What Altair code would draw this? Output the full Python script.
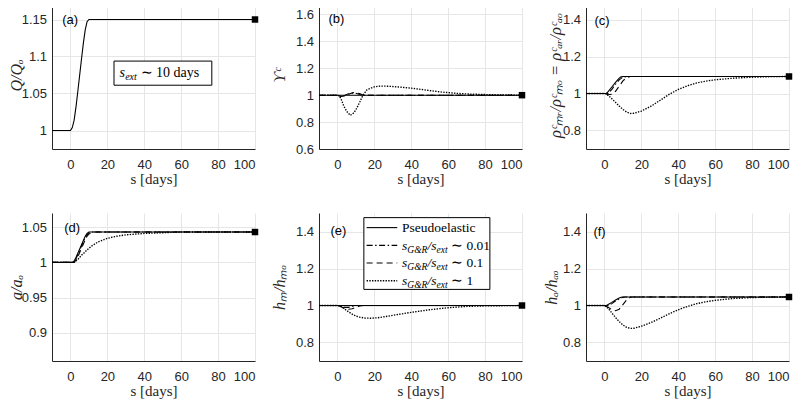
import altair as alt
import pandas as pd

# ---------------- data ----------------
X_TICKS = [0, 20, 40, 60, 80, 100]
X_DOMAIN = [-10, 100]

# (a) Q/Qo
A_S = [-10, 0, 1, 2, 3, 4, 5, 6, 7, 8, 9, 10, 100]
A_V = [1.0, 1.0, 1.004, 1.014, 1.032, 1.053, 1.075, 1.097, 1.118, 1.136, 1.147, 1.15, 1.15]

# (b) Upsilon^c
B_SOLID_S = [-10, 100]
B_SOLID_V = [1.0, 1.0]
B_DASHDOT_S = [-10, 0, 1.5, 4, 6, 8, 10, 12, 14, 100]
B_DASHDOT_V = [1, 1, 0.99, 1.0, 1.01, 1.016, 1.014, 1.005, 1.0, 1.0]
B_DASHED_S = [-10, 0, 2, 4, 7, 9, 12, 14, 100]
B_DASHED_V = [1, 1, 0.99, 0.994, 1.012, 1.02, 1.012, 1.0, 1.0]
B_DOTTED_S = [-10, 0, 1, 2, 3.4, 5, 7, 9, 10.7, 12.3, 13.8, 16, 20, 23.5, 28, 34, 40, 48, 56, 64, 72, 85, 100]
B_DOTTED_V = [1, 1, 0.995, 0.97, 0.92, 0.88, 0.85, 0.87, 0.91, 0.955, 1.0, 1.04, 1.062, 1.068, 1.066,
              1.06, 1.052, 1.038, 1.024, 1.014, 1.008, 1.003, 1.0]

# (c) rho ratio
C_SOLID_S = [-10, 0, 1, 2, 4, 6, 8, 9, 10, 100]
C_SOLID_V = [1, 1, 1.0, 1.01, 1.035, 1.06, 1.083, 1.09, 1.092, 1.092]
C_DASHDOT_S = [-10, 0, 2, 4, 6, 8, 10, 12, 100]
C_DASHDOT_V = [1, 1, 1.0, 1.022, 1.05, 1.074, 1.088, 1.092, 1.092]
C_DASHED_S = [-10, 0, 2, 4, 6, 8, 10, 12, 14, 100]
C_DASHED_V = [1, 1, 0.993, 0.996, 1.012, 1.04, 1.068, 1.086, 1.092, 1.092]
C_DOTTED_S = [-10, 0, 1, 2, 4, 6, 8, 10, 12, 14, 16, 20, 25, 30, 35, 40, 45, 50, 55, 60, 70, 80, 90, 100]
C_DOTTED_V = [1, 1, 0.998, 0.99, 0.972, 0.952, 0.932, 0.914, 0.9, 0.892, 0.893, 0.905, 0.93, 0.962,
              0.995, 1.022, 1.042, 1.057, 1.067, 1.074, 1.083, 1.088, 1.091, 1.092]

# (d) a/ao
D_SOLID_S = [-10, 1, 2, 3, 4, 5, 6, 7, 8, 9, 10, 100]
D_SOLID_V = [1, 1, 1.002, 1.007, 1.013, 1.019, 1.025, 1.031, 1.037, 1.041, 1.043, 1.043]
D_DASHDOT_S = [-10, 1, 2, 3, 4, 5, 6, 7, 8, 9, 10, 11, 100]
D_DASHDOT_V = [1, 1, 1.0, 1.005, 1.011, 1.017, 1.023, 1.029, 1.035, 1.039, 1.042, 1.043, 1.043]
D_DASHED_S = [-10, 1, 2, 3, 4, 5, 6, 7, 8, 9, 10, 12, 100]
D_DASHED_V = [1, 1, 1.0, 1.003, 1.008, 1.014, 1.02, 1.026, 1.032, 1.037, 1.04, 1.043, 1.043]
D_DOTTED_S = [-10, 0, 2, 4, 6, 8, 10, 12, 15, 20, 25, 30, 40, 50, 60, 100]
D_DOTTED_V = [1, 1, 1.0, 1.004, 1.01, 1.015, 1.02, 1.024, 1.029, 1.034, 1.037, 1.039, 1.041, 1.042, 1.043, 1.043]

# (e) hM/hMo
E_SOLID_S = [-10, 100]
E_SOLID_V = [1.0, 1.0]
E_DASHDOT_S = [-10, 0, 2, 4, 6, 8, 10, 100]
E_DASHDOT_V = [1, 1, 0.995, 0.99, 0.99, 0.995, 1.0, 1.0]
E_DASHED_S = [-10, 0, 2, 4, 6, 8, 10, 12, 14, 100]
E_DASHED_V = [1, 1, 0.993, 0.985, 0.98, 0.982, 0.99, 0.997, 1.0, 1.0]
E_DOTTED_S = [-10, 0, 2, 4, 6, 8, 10, 12, 15, 18, 22, 26, 30, 35, 40, 45, 50, 60, 70, 80, 100]
E_DOTTED_V = [1, 1, 0.994, 0.98, 0.966, 0.953, 0.943, 0.937, 0.932, 0.931, 0.934, 0.94, 0.947,
              0.955, 0.963, 0.97, 0.977, 0.988, 0.995, 0.998, 1.0]

# (f) hA/hAo
F_SOLID_S = [-10, 0, 1, 2, 4, 6, 8, 9, 10, 100]
F_SOLID_V = [1, 1, 1.0, 1.005, 1.017, 1.03, 1.041, 1.045, 1.046, 1.046]
F_DASHDOT_S = [-10, 0, 2, 4, 6, 8, 10, 11, 100]
F_DASHDOT_V = [1, 1, 1.0, 1.01, 1.024, 1.036, 1.044, 1.046, 1.046]
F_DASHED_S = [-10, 0, 2, 4, 6, 8, 10, 12, 14, 15, 100]
F_DASHED_V = [1, 1, 0.99, 0.978, 0.972, 0.98, 1.005, 1.03, 1.044, 1.046, 1.046]
F_DOTTED_S = [-10, 0, 2, 4, 6, 8, 10, 12, 14, 16, 20, 25, 30, 35, 40, 45, 50, 55, 60, 70, 80, 90, 100]
F_DOTTED_V = [1, 1, 0.985, 0.96, 0.935, 0.913, 0.895, 0.882, 0.876, 0.877, 0.888, 0.907, 0.93,
              0.955, 0.977, 0.995, 1.01, 1.02, 1.028, 1.038, 1.043, 1.045, 1.046]

END_S = 100
END_V = {"a": 1.15, "b": 1.0, "c": 1.092, "d": 1.043, "e": 1.0, "f": 1.046}

Y_DOMAINS = {"a": [0.975, 1.175], "b": [0.6, 1.7], "c": [0.7, 1.5],
             "d": [0.86, 1.07], "e": [0.7, 1.5], "f": [0.7, 1.5]}
Y_TICKS = {"a": [1, 1.05, 1.1, 1.15], "b": [0.6, 0.8, 1, 1.2, 1.4, 1.6], "c": [0.8, 1, 1.2, 1.4],
           "d": [0.9, 0.95, 1, 1.05], "e": [0.8, 1, 1.2, 1.4], "f": [0.8, 1, 1.2, 1.4]}
Y_TITLES = {"a": "Q/Qₒ", "b": "ϒᶜ", "c": "ρᶜₘᵣ/ρᶜₘₒ = ρᶜₐᵣ/ρᶜₐₒ",
            "d": "a/aₒ", "e": "hₘ/hₘₒ", "f": "hₐ/hₐₒ"}
PANEL_LABELS = {"a": "(a)", "b": "(b)", "c": "(c)", "d": "(d)", "e": "(e)", "f": "(f)"}
LABEL_S = {"a": -4.5, "b": -4.9, "c": -5.4, "d": -3.4, "e": -3.8, "f": -6.0}
LABEL_V = {"a": 1.149, "b": 1.563, "c": 1.392, "d": 1.049, "e": 1.405, "f": 1.4}

# annotation box in (a)
BOX_A = {"s1": 23.6, "s2": 76.6, "v1": 1.0612, "v2": 1.0938}
BOX_A_TEXT = {"s": 26.6, "v": 1.078, "tail": "∼ 10 days"}

# legend in (e)
LEG_BOX = {"s1": 14.3, "s2": 82.6, "v1": 1.087, "v2": 1.475}
LEG_STYLES = ["solid", "dashdot", "dashed", "dotted"]
LEG_V = [1.421, 1.325, 1.230, 1.134]
LEG_LINE_S = [15.8, 32.4]
LEG_TEXT_S = 35.0
LEG_RATIOS = ["0.01", "0.1", "1"]

DASH = {"solid": [1, 0], "dashdot": [6, 2.5, 1.5, 2.5], "dashed": [6, 4], "dotted": [1.4, 1.3]}
WIDTH = {"solid": 1.1, "dashdot": 1.1, "dashed": 1.1, "dotted": 1.35}

SERIES = {
    "a": [("solid", A_S, A_V)],
    "b": [("dotted", B_DOTTED_S, B_DOTTED_V), ("dashed", B_DASHED_S, B_DASHED_V),
          ("dashdot", B_DASHDOT_S, B_DASHDOT_V), ("solid", B_SOLID_S, B_SOLID_V)],
    "c": [("dotted", C_DOTTED_S, C_DOTTED_V), ("dashed", C_DASHED_S, C_DASHED_V),
          ("dashdot", C_DASHDOT_S, C_DASHDOT_V), ("solid", C_SOLID_S, C_SOLID_V)],
    "d": [("dotted", D_DOTTED_S, D_DOTTED_V), ("dashed", D_DASHED_S, D_DASHED_V),
          ("dashdot", D_DASHDOT_S, D_DASHDOT_V), ("solid", D_SOLID_S, D_SOLID_V)],
    "e": [("dotted", E_DOTTED_S, E_DOTTED_V), ("dashed", E_DASHED_S, E_DASHED_V),
          ("dashdot", E_DASHDOT_S, E_DASHDOT_V), ("solid", E_SOLID_S, E_SOLID_V)],
    "f": [("dotted", F_DOTTED_S, F_DOTTED_V), ("dashed", F_DASHED_S, F_DASHED_V),
          ("dashdot", F_DASHDOT_S, F_DASHDOT_V), ("solid", F_SOLID_S, F_SOLID_V)],
}

TITLE_X = {"a": -36, "b": -40, "c": -31, "d": -36, "e": -40, "f": -35}
TITLE_SIZE = {"a": 16, "b": 16, "c": 16.5, "d": 16, "e": 16, "f": 16}

W, H = 203, 148
SERIF = "Liberation Serif"
SANS = "Liberation Sans"


def panel(key):
    xenc = alt.X("s:Q", scale=alt.Scale(domain=X_DOMAIN, nice=False, zero=False),
                 axis=alt.Axis(values=X_TICKS, title="s [days]", titleY=29, titleBaseline="middle",
                               labelPadding=9, titleFontStyle="normal", titleFontSize=15))
    yenc = alt.Y("v:Q", scale=alt.Scale(domain=Y_DOMAINS[key], nice=False, zero=False),
                 axis=alt.Axis(values=Y_TICKS[key], title=Y_TITLES[key], format="~g",
                               titleX=TITLE_X[key], titleY=H / 2, titleAngle=270,
                               titleBaseline="middle", titleAlign="center",
                               titleFontStyle="italic", titleFontSize=TITLE_SIZE[key],
                               labelPadding=5.5))
    layers = []
    for style, s, v in SERIES[key]:
        df = pd.DataFrame({"s": s, "v": v})
        kw = {} if style == "solid" else {"strokeDash": DASH[style]}
        layers.append(alt.Chart(df).mark_line(color="black", strokeWidth=WIDTH[style], clip=True, **kw)
                      .encode(x=xenc, y=yenc))
    end_df = pd.DataFrame({"s": [END_S], "v": [END_V[key]]})
    layers.append(alt.Chart(end_df).mark_square(color="black", size=42, opacity=1)
                  .encode(x=xenc, y=yenc))
    lab_df = pd.DataFrame({"s": [LABEL_S[key]], "v": [LABEL_V[key]], "t": [PANEL_LABELS[key]]})
    layers.append(alt.Chart(lab_df).mark_text(font=SANS, fontSize=13, align="left",
                                               baseline="middle", color="black")
                  .encode(x=xenc, y=yenc, text="t:N"))

    if key == "a":
        box = pd.DataFrame({"s": [BOX_A["s1"]], "s2": [BOX_A["s2"]],
                            "v": [BOX_A["v1"]], "v2": [BOX_A["v2"]]})
        layers.append(alt.Chart(box).mark_rect(fill="white", stroke="black", strokeWidth=1)
                      .encode(x=xenc, x2="s2:Q", y=yenc, y2="v2:Q"))
        tdf = pd.DataFrame({"s": [BOX_A_TEXT["s"]], "v": [BOX_A_TEXT["v"]],
                            "p1": ["s"], "p2": ["ext"], "p3": [BOX_A_TEXT["tail"]]})
        base = alt.Chart(tdf)
        layers.append(base.mark_text(font=SERIF, fontSize=14, fontStyle="italic", align="left",
                                     baseline="alphabetic", dy=4.5, color="black")
                      .encode(x=xenc, y=yenc, text="p1:N"))
        layers.append(base.mark_text(font=SERIF, fontSize=10, fontStyle="italic", align="left",
                                     baseline="alphabetic", dx=5.6, dy=7.5, color="black")
                      .encode(x=xenc, y=yenc, text="p2:N"))
        layers.append(base.mark_text(font=SERIF, fontSize=14, align="left",
                                     baseline="alphabetic", dx=21, dy=4.5, color="black")
                      .encode(x=xenc, y=yenc, text="p3:N"))

    if key == "e":
        box = pd.DataFrame({"s": [LEG_BOX["s1"]], "s2": [LEG_BOX["s2"]],
                            "v": [LEG_BOX["v1"]], "v2": [LEG_BOX["v2"]]})
        layers.append(alt.Chart(box).mark_rect(fill="white", stroke="black", strokeWidth=1)
                      .encode(x=xenc, x2="s2:Q", y=yenc, y2="v2:Q"))
        for style, yv in zip(LEG_STYLES, LEG_V):
            ldf = pd.DataFrame({"s": [LEG_LINE_S[0]], "s2": [LEG_LINE_S[1]], "v": [yv]})
            kw = {} if style == "solid" else {"strokeDash": DASH[style]}
            layers.append(alt.Chart(ldf).mark_rule(color="black", strokeWidth=WIDTH[style], **kw)
                          .encode(x=xenc, x2="s2:Q", y=yenc))
        p0 = pd.DataFrame({"s": [LEG_TEXT_S], "v": [LEG_V[0]], "t": ["Pseudoelastic"]})
        layers.append(alt.Chart(p0).mark_text(font=SERIF, fontSize=13.5, align="left",
                                               baseline="alphabetic", dy=4.5, color="black")
                      .encode(x=xenc, y=yenc, text="t:N"))
        tdf = pd.DataFrame({"s": [LEG_TEXT_S] * 3, "v": LEG_V[1:],
                            "p1": ["s"] * 3, "p2": ["G&R"] * 3, "p3": ["/s"] * 3,
                            "p4": ["ext"] * 3, "p5": ["∼ " + r for r in LEG_RATIOS]})
        base = alt.Chart(tdf)
        pieces = [("p1", 13.5, "italic", 0, 4.5), ("p2", 9.5, "italic", 5.3, 7.5),
                  ("p3", 13.5, "italic", 25.4, 4.5), ("p4", 9.5, "italic", 34.4, 7.5),
                  ("p5", 13.5, "normal", 49.0, 4.5)]
        for f, fs, st, dx, dy in pieces:
            layers.append(base.mark_text(font=SERIF, fontSize=fs, fontStyle=st, align="left",
                                         baseline="alphabetic", dx=dx, dy=dy, color="black")
                          .encode(x=xenc, y=yenc, text=f + ":N"))

    return alt.layer(*layers).properties(width=W, height=H)


chart = (
    alt.concat(panel("a"), panel("b"), panel("c"), panel("d"), panel("e"), panel("f"),
               columns=3, spacing=64, bounds="flush")
    .properties(padding={"left": 0, "top": -7, "right": 0, "bottom": 6}, background="white")
    .configure_view(stroke=None)
    .configure_axis(labelFont=SANS, labelFontSize=13, labelColor="#262626",
                    titleFont=SERIF, titleFontWeight="normal", titleColor="#262626",
                    gridColor="#e6e6e6", gridWidth=1, domainColor="#262626", domainWidth=1,
                    tickSize=0)
)

chart.save("out.html", embed_options={"renderer": "svg", "actions": False})
